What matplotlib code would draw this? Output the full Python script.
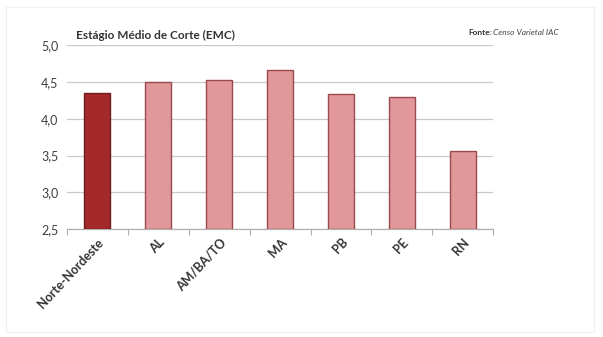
import matplotlib
matplotlib.use("Agg")
import matplotlib.pyplot as plt
from matplotlib.patches import Rectangle

categories = ["Norte-Nordeste", "AL", "AM/BA/TO", "MA", "PB", "PE", "RN"]
emc_values = [4.35, 4.50, 4.52, 4.66, 4.33, 4.30, 3.56]
y_ticks = [2.5, 3.0, 3.5, 4.0, 4.5, 5.0]
y_tick_labels = ["2,5", "3,0", "3,5", "4,0", "4,5", "5,0"]

plt.rcParams["font.family"] = ["Lato", "DejaVu Sans"]

fig = plt.figure(figsize=(6.03, 3.37), dpi=100)
fig.patch.set_facecolor("white")

# faint outer frame
fig.add_artist(Rectangle((0.01, 0.015), 0.975, 0.965, transform=fig.transFigure,
                         fill=False, edgecolor="#f0f0f0", linewidth=0.8))

ax = fig.add_axes([0.111, 0.320, 0.707, 0.546])

colors = ["#a3292b"] + ["#e0989a"] * (len(categories) - 1)
edges = ["#6e1c1e"] + ["#9a4a4c"] * (len(categories) - 1)
x = list(range(len(categories)))
ax.bar(x, [v - 2.5 for v in emc_values], bottom=2.5, width=0.43,
       color=colors, edgecolor=edges, linewidth=1.0, zorder=3)

ax.set_ylim(2.5, 5.0)
ax.set_xlim(-0.5, len(categories) - 0.5)
ax.set_yticks(y_ticks)
ax.set_yticklabels(y_tick_labels, fontsize=9, color="#404040")
ax.yaxis.grid(True, color="#c8c8c8", linewidth=0.9, zorder=0)
ax.tick_params(axis="y", length=0, pad=6)

ax.set_xticks(x)
ax.set_xticklabels(categories, rotation=47, ha="right", rotation_mode="anchor",
                   fontsize=9, fontweight="bold", color="#333333")
ax.tick_params(axis="x", length=0, pad=5)
# category separators on the baseline
ax.set_xticks([i + 0.5 for i in range(-1, len(categories))], minor=True)
ax.tick_params(axis="x", which="minor", length=4, color="#b0b0b0", width=0.8)

for s in ["top", "right", "left"]:
    ax.spines[s].set_visible(False)
ax.spines["bottom"].set_color("#b0b0b0")
ax.spines["bottom"].set_linewidth(0.9)

fig.text(0.126, 0.896, "Estágio Médio de Corte (EMC)", fontsize=8.5,
         fontweight="bold", color="#333333", ha="left", va="center")
fig.text(0.776, 0.905, "Fonte:", fontsize=6, fontweight="bold",
         color="#333333", ha="left", va="center")
fig.text(0.818, 0.905, "Censo Varietal IAC", fontsize=6, fontstyle="italic",
         color="#444444", ha="left", va="center")

fig.savefig("out.png", dpi=100, facecolor="white")
